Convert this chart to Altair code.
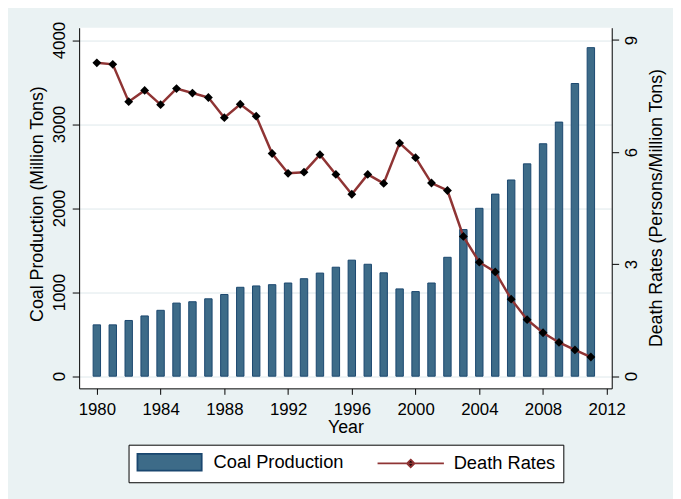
import altair as alt
import pandas as pd

years = list(range(1980, 2012))
production = [611, 611, 663, 717, 784, 870, 886, 921, 972, 1058, 1074, 1089,
              1109, 1160, 1227, 1297, 1381, 1332, 1230, 1039, 1007, 1109,
              1415, 1745, 1998, 2167, 2335, 2527, 2766, 3024, 3483, 3910]
death_rates = [8.39, 8.35, 7.35, 7.65, 7.27, 7.70, 7.58, 7.46, 6.92, 7.28,
               6.96, 5.96, 5.43, 5.46, 5.93, 5.40, 4.87, 5.40, 5.16, 6.24,
               5.85, 5.17, 4.97, 3.74, 3.05, 2.79, 2.06, 1.51, 1.16, 0.90,
               0.70, 0.51]
x_ticks = [1980, 1984, 1988, 1992, 1996, 2000, 2004, 2008, 2012]
left_ticks = [0, 1000, 2000, 3000, 4000]
right_ticks = [0, 3, 6, 9]
series_names = ["Coal Production", "Death Rates"]

BAR_FILL = "#3d6b88"
BAR_STROKE = "#1a476f"
LINE_COLOR = "#8f3434"

df = pd.DataFrame({"year": years, "production": production, "death": death_rates})
legend_df = pd.DataFrame({"series": series_names})

FONT = "Liberation Sans"

x = alt.X(
    "year:Q",
    scale=alt.Scale(domain=[1979.2, 2012], nice=False, zero=False),
    axis=alt.Axis(values=x_ticks, format="d", title="Year", tickSize=6,
                  labelPadding=7, titleY=31, titleBaseline="top", grid=False),
)

bars = alt.Chart(df).mark_bar(size=7.5, color=BAR_FILL, stroke=BAR_STROKE,
                              strokeWidth=1).encode(
    x=x,
    y=alt.Y(
        "production:Q",
        scale=alt.Scale(domain=[-145, 4147], nice=False, zero=False),
        axis=alt.Axis(
            orient="left", values=left_ticks, format="d",
            title="Coal Production (Million Tons)",
            labelAngle=270, labelAlign="center", labelBaseline="bottom",
            labelPadding=4, tickSize=7, titleAngle=270, titleBaseline="bottom",
            titleX=-33, titleY=178, grid=True, gridColor="#dde8eb",
        ),
    ),
)

line = alt.Chart(df).mark_line(strokeWidth=2.5, color=LINE_COLOR).encode(
    x=x,
    y=alt.Y(
        "death:Q",
        scale=alt.Scale(domain=[-0.33, 9.33], nice=False, zero=False),
        axis=alt.Axis(
            orient="right", values=right_ticks, format="d",
            title="Death Rates (Persons/Million Tons)",
            labelAngle=270, labelAlign="center", labelBaseline="top",
            labelPadding=5, tickSize=7, titleAngle=270, titleBaseline="top",
            titleX=36, titleY=182, grid=False,
        ),
    ),
)

points = alt.Chart(df).mark_point(shape="diamond", filled=True, color="black",
                                  size=80, opacity=1).encode(
    x=x,
    y=alt.Y("death:Q", scale=alt.Scale(domain=[-0.33, 9.33], nice=False, zero=False),
            axis=None),
)

legend = alt.Legend(
    title=None,
    orient="none",
    legendX=50,
    legendY=422,
    direction="horizontal",
    columns=2,
    strokeColor="black",
    fillColor="white",
    padding=8,
    symbolSize=289,
    symbolStrokeWidth=1.8,
    symbolOpacity=1,
    labelOffset=59,
    columnPadding=30,
)

legend_layer = alt.Chart(legend_df).mark_point(filled=True, opacity=0).encode(
    x=alt.value(0),
    y=alt.value(0),
    fill=alt.Fill("series:N", scale=alt.Scale(domain=series_names,
                                              range=[BAR_FILL, "#000000"]),
                  legend=legend),
    stroke=alt.Stroke("series:N", scale=alt.Scale(domain=series_names,
                                                  range=[BAR_STROKE, LINE_COLOR]),
                      legend=legend),
    shape=alt.Shape("series:N", scale=alt.Scale(
        domain=series_names,
        range=["M-1,-1H6.65V1H-1Z",
               "M-1,0H6.9M2.95,-0.45L3.4,0L2.95,0.45L2.5,0Z"]),
        legend=legend),
)

chart = alt.layer(bars, line, points, legend_layer).resolve_scale(
    y="independent"
).properties(
    width=539,
    height=365,
    background="#eaf2f3",
    padding={"left": 72, "top": 17, "right": 62, "bottom": 109},
    autosize=alt.AutoSizeParams(type="none"),
).configure_view(
    fill="white", strokeWidth=0
).configure_axis(
    labelFont=FONT, labelFontSize=17, labelColor="black",
    titleFont=FONT, titleFontSize=18, titleFontWeight="normal", titleColor="black",
    domainColor="black", domainWidth=1, tickColor="black", tickWidth=1,
).configure_legend(
    labelFont=FONT, labelFontSize=18.5, labelColor="black",
)

chart.save("out.html", embed_options={"renderer": "svg", "actions": False})
